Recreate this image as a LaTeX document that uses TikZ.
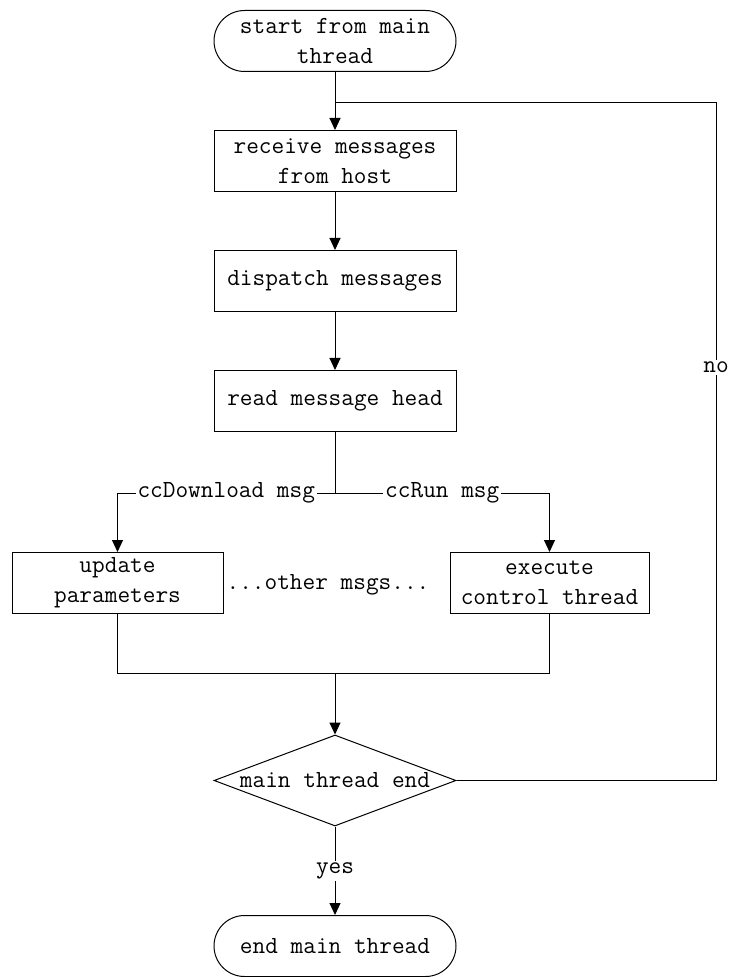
\documentclass[tikz,border=0pt]{standalone}
\usetikzlibrary{arrows.meta,shapes.geometric}
\begin{document}
\begin{tikzpicture}[x=0.5pt,y=-0.5pt,
  font=\ttfamily\fontsize{12.3}{15}\selectfont,
  line width=0.5pt,
  box/.style={draw, minimum width=121pt, minimum height=30.5pt, inner sep=0pt, align=center},
  term/.style={box, rounded corners=15.25pt},
  dec/.style={draw, diamond, aspect=2.66, inner sep=0pt, minimum width=121pt, minimum height=45.5pt},
  arr/.style={draw, -{Triangle[length=6pt,width=5.5pt]}},
  lbl/.style={fill=white, inner sep=1pt}]
\useasboundingbox (0,0) rectangle (732,977);
\node[term] (start) at (335,41) {start from main\\thread};
\node[box] (recv) at (335,161) {receive messages\\from host};
\node[box] (disp) at (335,281) {dispatch messages};
\node[box] (read) at (335,401) {read message head};
\node[box, minimum width=105.5pt] (upd) at (117.5,583) {update\\parameters};
\node[box, minimum width=99.5pt] (exe) at (549.5,583) {execute\\control thread};
\node (oth) at (328,585) {...other msgs...};
\node[dec] (dec) at (335,780.5) {main thread end};
\node[term] (fin) at (335,946) {end main thread};

\coordinate (j) at (335,103);
\coordinate (br) at (335,493);
\coordinate (mg) at (335,673);
\coordinate (rb) at (716,780.5);
\coordinate (rt) at (716,103);

\draw (start) -- (j);
\draw[arr] (j) -- (recv);
\draw[arr] (recv) -- (disp);
\draw[arr] (disp) -- (read);
\draw (read) -- (br);
\draw[arr] (br) -- node[lbl]{ccDownload msg} (br -| upd) -- (upd);
\draw[arr] (br) -- node[lbl]{ccRun msg} (br -| exe) -- (exe);
\draw (upd) |- (mg);
\draw (exe) |- (mg);
\draw[arr] (mg) -- (dec);
\draw (dec.east) -- (rb) -- node[lbl,pos=0.61]{no} (rt) -- (j);
\draw[arr] (dec) -- node[lbl]{yes} (fin);
\end{tikzpicture}
\end{document}
